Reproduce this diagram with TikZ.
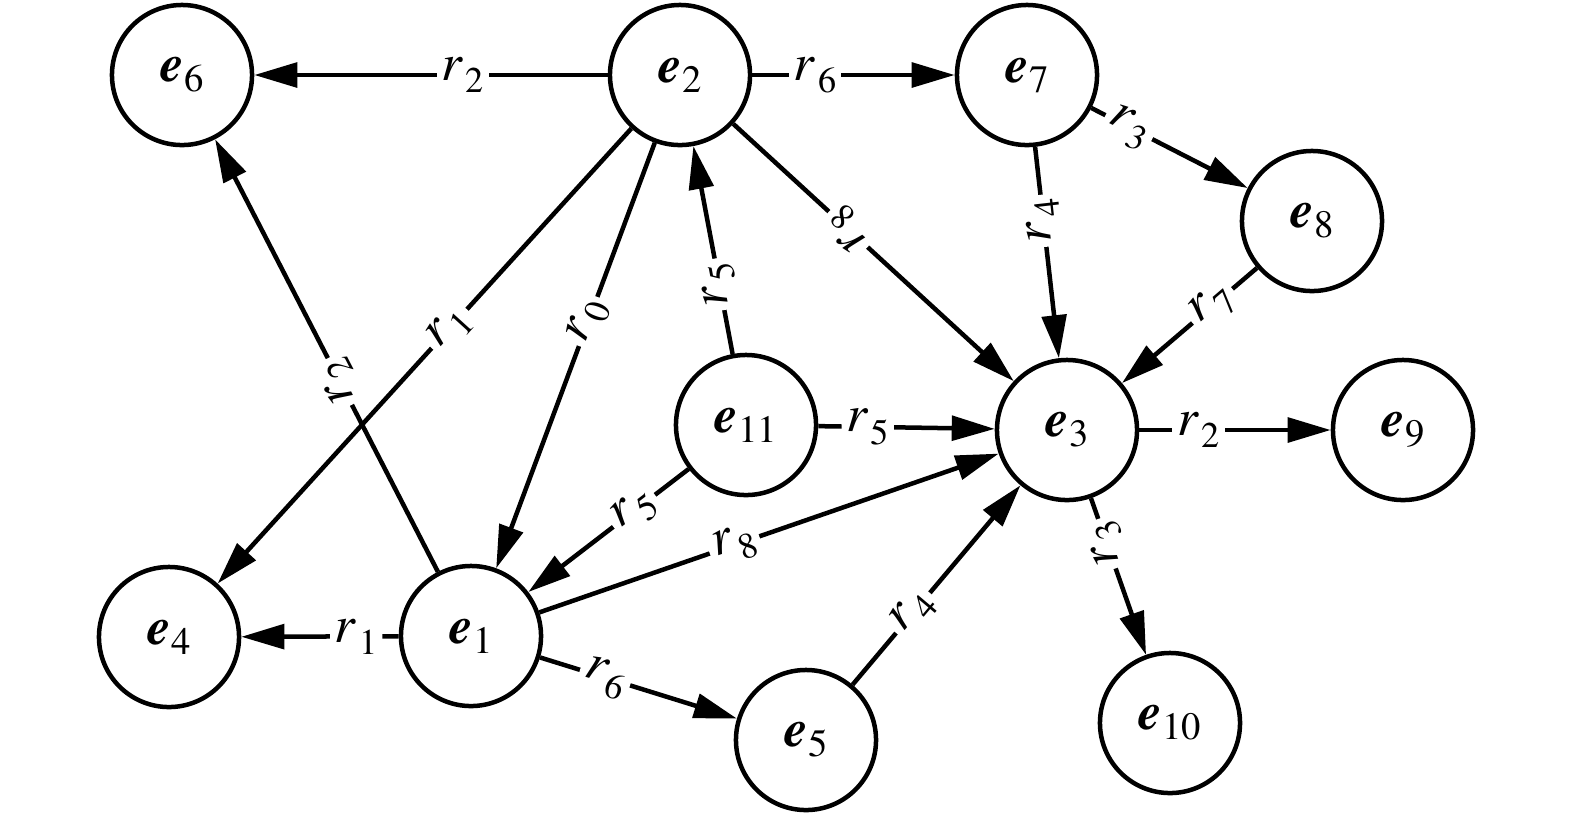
\documentclass[tikz,border=0pt]{standalone}
\usepackage{fontspec}
\setmainfont{texgyretermes}[Extension=.otf, UprightFont=*-regular, BoldFont=*-bold, ItalicFont=*-italic, BoldItalicFont=*-bolditalic]
\usetikzlibrary{arrows.meta}
\newcommand{\entlab}[1]{\textbf{\textit{e}}\kern0.01em\raisebox{-0.1cm}{\fontsize{11}{12}\selectfont #1}}
\newcommand{\rellab}[1]{\textit{r}\kern0.05em\raisebox{-0.12cm}{\fontsize{10.3}{11}\selectfont #1}}
\begin{document}
\begin{tikzpicture}[x=0.01cm,y=-0.01cm,
  entnode/.style={circle,draw,line width=0.045cm,minimum size=1.4cm,inner sep=0pt,font=\fontsize{15}{17}\selectfont},
  rellabel/.style={fill=white,inner sep=1.4pt,font=\fontsize{15}{17}\selectfont},
  fwd/.style={line width=0.045cm,-{Triangle[length=0.43cm,width=0.245cm]}},
  bwd/.style={line width=0.045cm,{Triangle[length=0.43cm,width=0.245cm]}-},
  ]
\useasboundingbox (0,0) rectangle (1575,817);
\node[entnode] (e6) at (182,75) {\entlab{6}};
\node[entnode] (e2) at (680,75) {\entlab{2}};
\node[entnode] (e7) at (1027,75) {\entlab{7}};
\node[entnode] (e8) at (1312,221) {\entlab{8}};
\node[entnode] (e3) at (1067,430) {\entlab{3}};
\node[entnode] (e9) at (1403,430) {\entlab{9}};
\node[entnode] (e10) at (1170,723) {\entlab{10}};
\node[entnode] (e11) at (746,425) {\entlab{11}};
\node[entnode] (e4) at (169,637) {\entlab{4}};
\node[entnode] (e1) at (471,636) {\entlab{1}};
\node[entnode] (e5) at (806,740) {\entlab{5}};

\draw[fwd] (e2) -- node[rellabel,sloped,pos=.41]{\rellab{2}} (e6);
\draw[fwd] (e2) -- node[rellabel,sloped,pos=.31]{\rellab{6}} (e7);
\draw[fwd] (e7) -- node[rellabel,sloped,pos=.24]{\rellab{3}} (e8);
\draw[bwd] (e3) -- node[rellabel,sloped,allow upside down,pos=.65]{\rellab{4}} (e7);
\draw[bwd] (e3) -- node[rellabel,sloped,allow upside down,pos=.59]{\rellab{8}} (e2);
\draw[fwd] (e8) -- node[rellabel,sloped,pos=.33]{\rellab{7}} (e3);
\draw[fwd] (e2) -- node[rellabel,sloped,pos=.42]{\rellab{0}} (e1);
\draw[fwd] (e1) -- node[rellabel,sloped,allow upside down,pos=.44]{\rellab{2}} (e6);
\draw[fwd] (e2) -- node[rellabel,sloped,pos=.44]{\rellab{1}} (e4);
\draw[fwd] (e11) -- node[rellabel,sloped,allow upside down,pos=.335]{\rellab{5}} (e2);
\draw[fwd] (e11) -- node[rellabel,sloped,pos=.28]{\rellab{5}} (e3);
\draw[fwd] (e11) -- node[rellabel,sloped,pos=.34]{\rellab{5}} (e1);
\draw[fwd] (e1) -- node[rellabel,sloped,pos=.425]{\rellab{8}} (e3);
\draw[fwd] (e1) -- node[rellabel,sloped,pos=.27]{\rellab{1}} (e4);
\draw[fwd] (e1) -- node[rellabel,sloped,pos=.33]{\rellab{6}} (e5);
\draw[fwd] (e5) -- node[rellabel,sloped,pos=.36]{\rellab{4}} (e3);
\draw[fwd] (e3) -- node[rellabel,sloped,pos=.31]{\rellab{2}} (e9);
\draw[bwd] (e10) -- node[rellabel,sloped,allow upside down,pos=.71]{\rellab{3}} (e3);
\end{tikzpicture}
\end{document}
